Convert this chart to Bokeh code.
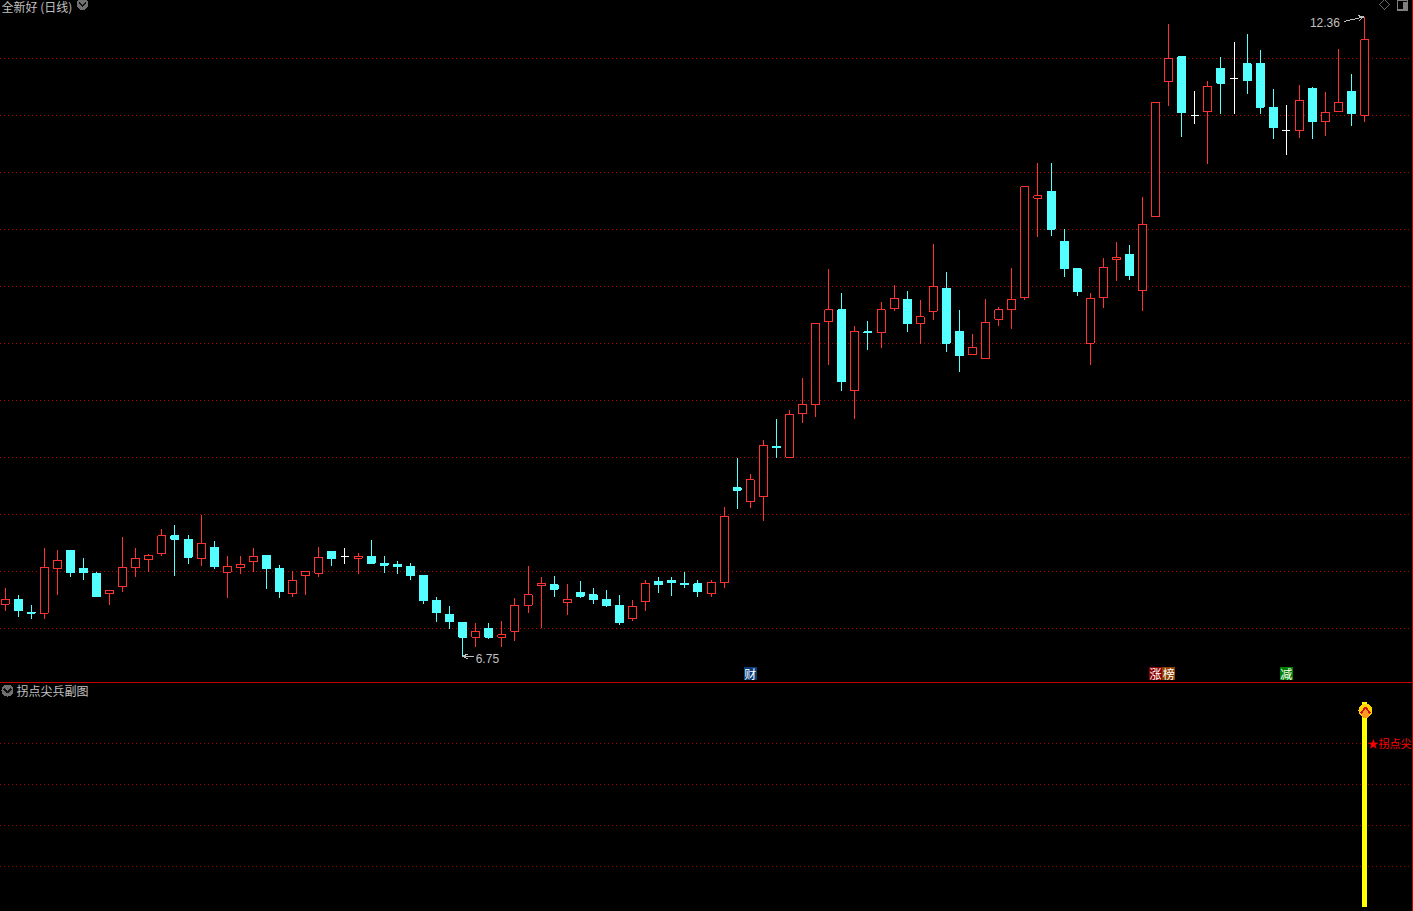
from bokeh.plotting import figure
from bokeh.layouts import column
from bokeh.models import Range1d, Label, Arrow, OpenHead
from bokeh.core.properties import value
from bokeh.embed import file_html
from bokeh.resources import INLINE

highs = [7.35,7.29,7.20,7.70,7.68,7.68,7.61,7.49,7.33,7.80,7.70,7.65,7.87,7.90,7.82,7.99,7.76,7.63,7.63,7.70,7.64,7.55,7.50,7.50,7.71,7.67,7.70,
         7.66,7.77,7.63,7.59,7.57,7.46,7.27,7.19,7.05,7.04,7.04,7.06,7.26,7.54,7.45,7.46,7.39,7.41,7.35,7.33,7.29,7.25,7.42,7.45,7.45,7.49,7.42,7.42,
         8.06,8.49,8.35,8.65,8.83,8.91,9.19,9.67,10.15,9.94,9.65,9.69,9.86,10.01,9.96,9.88,10.37,10.12,9.79,9.58,9.89,9.82,
         10.16,10.87,11.08,11.08,10.50,10.15,9.94,10.25,10.39,10.36,10.78,11.61,
         12.30,12.01,11.71,11.80,12.01,12.14,12.21,12.07,11.73,11.59,11.76,11.75,11.70,12.08,11.86,12.36]
lows = [7.15,7.10,7.08,7.08,7.29,7.45,7.42,7.28,7.20,7.32,7.45,7.49,7.63,7.46,7.56,7.54,7.52,7.26,7.47,7.49,7.34,7.26,7.27,7.29,7.45,7.54,7.56,
        7.47,7.56,7.48,7.47,7.42,7.21,7.05,6.99,6.75,6.83,6.90,6.83,6.89,7.13,7.00,7.27,7.11,7.26,7.21,7.18,7.03,7.06,7.15,7.31,7.28,7.35,7.27,7.27,
        7.35,8.04,8.05,7.94,8.49,8.50,8.80,8.85,9.31,9.08,8.83,9.44,9.46,9.78,9.60,9.49,9.70,9.42,9.25,9.40,9.36,9.65,
        9.62,9.88,10.43,10.44,10.08,9.91,9.31,9.81,10.04,10.05,9.78,10.61,
        11.58,11.31,11.42,11.07,11.51,11.51,11.68,11.51,11.29,11.15,11.30,11.29,11.32,11.53,11.40,11.44]
opens = [7.21,7.25,7.14,7.13,7.52,7.68,7.52,7.48,7.30,7.36,7.53,7.60,7.65,7.81,7.78,7.61,7.71,7.49,7.53,7.58,7.64,7.52,7.30,7.46,7.48,7.67,7.63,
         7.61,7.63,7.57,7.56,7.54,7.46,7.24,7.12,7.05,6.92,7.00,6.92,6.97,7.20,7.37,7.38,7.22,7.31,7.29,7.25,7.20,7.08,7.23,7.41,7.42,7.39,7.39,7.30,
         7.40,8.23,8.11,8.15,8.59,8.50,8.88,8.96,9.69,9.79,9.08,9.60,9.59,9.80,9.88,9.67,9.78,9.98,9.60,9.40,9.36,9.71,
         9.79,9.90,10.77,10.83,10.39,10.15,9.50,9.90,10.23,10.28,9.96,10.61,
         11.79,12.01,11.50,11.53,11.91,11.82,11.95,11.95,11.57,11.36,11.36,11.73,11.44,11.53,11.71,11.50]
closes = [7.25,7.15,7.13,7.53,7.59,7.49,7.49,7.28,7.33,7.53,7.61,7.64,7.81,7.78,7.62,7.74,7.54,7.54,7.56,7.63,7.52,7.32,7.42,7.50,7.62,7.61,7.63,
          7.63,7.57,7.55,7.54,7.46,7.24,7.14,7.06,6.92,6.97,6.92,6.94,7.20,7.29,7.39,7.34,7.25,7.28,7.25,7.20,7.05,7.19,7.39,7.38,7.40,7.38,7.32,7.40,
          7.98,8.21,8.30,8.60,8.58,8.87,8.96,9.67,9.79,9.16,9.60,9.59,9.79,9.89,9.67,9.73,10.00,9.50,9.39,9.46,9.68,9.79,
          9.88,10.87,10.79,10.50,10.15,9.95,9.89,10.16,10.25,10.09,10.54,11.61,
          12.00,11.52,11.50,11.75,11.78,11.82,11.80,11.57,11.39,11.36,11.63,11.44,11.52,11.61,11.51,12.16]
sub_values = [0]*104 + [100]
price_grid = [12.0,11.5,11.0,10.5,10.0,9.5,9.0,8.5,8.0,7.5,7.0]
sub_grid = [80,60,40,20]
low_label = "6.75"
high_label = "12.36"
signal_texts = ["财","涨","榜","减"]
signal_index = [57,88,89,98]
signal_colors = ["#0a3c78","#8a0000","#8a4000","#008000"]

W, H_TOP, H_SUB = 1414, 683, 229
STEP, X0 = 13.075, 5.5           # one pixel of each panel lies off the page on the left
PPU_MAIN, PPU_SUB = 114.0, 2.05
RED, CYAN, WHITE, GRID, GRAY = "#ff3232", "#54ffff", "#ffffff", "#c00000", "#c0c0c0"
CJK = value("Noto Sans CJK SC")
xr = Range1d(-X0/STEP, (W-X0)/STEP)
def px(x): return (x+1-X0)/STEP

def base(h, yr, **kw):
    f = figure(width=W, height=h, x_range=xr, y_range=yr, output_backend="svg", toolbar_location=None,
               min_border=0, min_border_left=0, min_border_right=0, min_border_top=0, min_border_bottom=0,
               background_fill_color="black", border_fill_color="black", outline_line_color=None, **kw)
    f.xaxis.visible = False; f.yaxis.visible = False; f.grid.visible = False
    return f

top = 12 + 58.5/PPU_MAIN
p = base(H_TOP, Range1d(top - H_TOP/PPU_MAIN, top))
def py(y): return top - (y-1)/PPU_MAIN
n = len(closes)
idx = list(range(n))
for g in price_grid:
    p.line([xr.start, xr.end], [g, g], line_color=GRID, line_dash="1 3", line_width=1)

def color(i):
    return RED if closes[i] > opens[i] else (CYAN if closes[i] < opens[i] else WHITE)
cols = [color(i) for i in idx]
fills = ["black" if c == RED else c for c in cols]
p.segment(idx, highs, idx, lows, line_color=cols, line_width=1)
p.vbar(x=idx, top=[max(a,b) for a,b in zip(opens,closes)], bottom=[min(a,b) for a,b in zip(opens,closes)],
       width=8/STEP, fill_color=fills, line_color=cols, line_width=1)
# price extremes
lo = lows.index(min(lows)); hi = highs.index(max(highs))
p.add_layout(Arrow(end=OpenHead(size=5, line_color=GRAY, line_width=1), line_color=GRAY, line_width=1,
                   x_start=lo+0.9, y_start=lows[lo], x_end=lo, y_end=lows[lo]))
p.text([lo+1.0], [lows[lo]-0.015], text=[low_label], text_color=GRAY, text_font=value("Liberation Sans"),
       text_font_size="12px", text_align="left", text_baseline="middle")
p.add_layout(Arrow(end=OpenHead(size=5, line_color=GRAY, line_width=1), line_color=GRAY, line_width=1,
                   x_start=hi-1.6, y_start=highs[hi]-0.04, x_end=hi-0.1, y_end=highs[hi]))
p.text([hi-1.9], [highs[hi]-0.05], text=[high_label], text_color=GRAY, text_font=value("Liberation Sans"),
       text_font_size="12px", text_align="right", text_baseline="middle")
# event tags
tag_top, tag_bot = py(668), py(681)
p.quad(left=[i-0.5 for i in signal_index], right=[i+0.5 for i in signal_index], top=tag_top, bottom=tag_bot,
       fill_color=signal_colors, line_color=None)
p.text(signal_index, [py(675)]*4, text=signal_texts, text_color=WHITE, text_font=CJK, text_font_size="12px",
       text_align="center", text_baseline="middle")
# chrome
p.line([px(1411.5)]*2, [py(0), py(683)], line_color="#c80000", line_width=1)
p.add_layout(Label(x=2, y=H_TOP-7, x_units="screen", y_units="screen", text="全新好 (日线)", text_color=GRAY,
                   text_font="Noto Sans CJK SC", text_font_size="12px", text_baseline="middle"))
p.scatter([px(82)], [py(5.5)], size=12, fill_color="#707070", line_color=None)
p.line([px(78.5), px(82), px(85.5)], [py(4), py(7.5), py(4)], line_color="#111111", line_width=1.5)
p.patch([px(1384), px(1389), px(1384), px(1379)], [py(1), py(6), py(11), py(6)], fill_color=None, line_color="#666666", line_width=1)
p.quad(left=[px(1397)], right=[px(1407)], top=[py(1.5)], bottom=[py(11.5)], fill_color=None, line_color="#808080", line_width=1.5)
p.quad(left=[px(1402)], right=[px(1406)], top=[py(3)], bottom=[py(10)], fill_color="#808080", line_color=None)

stop = 224.5/PPU_SUB
s = base(H_SUB, Range1d(stop - H_SUB/PPU_SUB, stop), styles={"clip-path": "inset(1px 0 0 0)"})
def sy(y): return stop - (y-683)/PPU_SUB
for g in sub_grid:
    s.line([xr.start, xr.end], [g, g], line_color="#a00000", line_dash="1 3", line_width=1)
s.vbar(x=idx, top=sub_values, bottom=0, width=5/STEP, fill_color="#ffff00", line_color=None)
s.scatter([px(1365)], [sy(711)], size=14, fill_color="#ffd400", line_color=None)
s.scatter([px(1365)], [sy(714.5)], size=8, fill_color="#ff9a20", line_color=None)
s.line([px(1360), px(1365), px(1370)], [sy(714), sy(708), sy(714)], line_color="#d81010", line_width=2)
s.text([px(1367)], [sy(743)], text=["★拐点尖"], text_color="#ff0000", text_font=CJK, text_font_size="11px",
       text_align="left", text_baseline="middle")
s.line([px(1412)]*2, [sy(682), sy(912)], line_color="#c80000", line_width=2)
s.add_layout(Label(x=17, y=H_SUB-8, x_units="screen", y_units="screen", text="拐点尖兵副图", text_color=GRAY,
                   text_font="Noto Sans CJK SC", text_font_size="12px", text_baseline="middle"))
s.scatter([px(7)], [sy(691)], size=12, fill_color="#707070", line_color=None)
s.line([px(3.5), px(7), px(10.5)], [sy(689.5), sy(693), sy(689.5)], line_color="#111111", line_width=1.5)

page = column(p, s, spacing=0, styles={"position": "absolute", "left": "-1px", "top": "-1px",
                                        "shape-rendering": "crispEdges", "background": "#c80000"})
open("out.html", "w").write(file_html(page, INLINE))
